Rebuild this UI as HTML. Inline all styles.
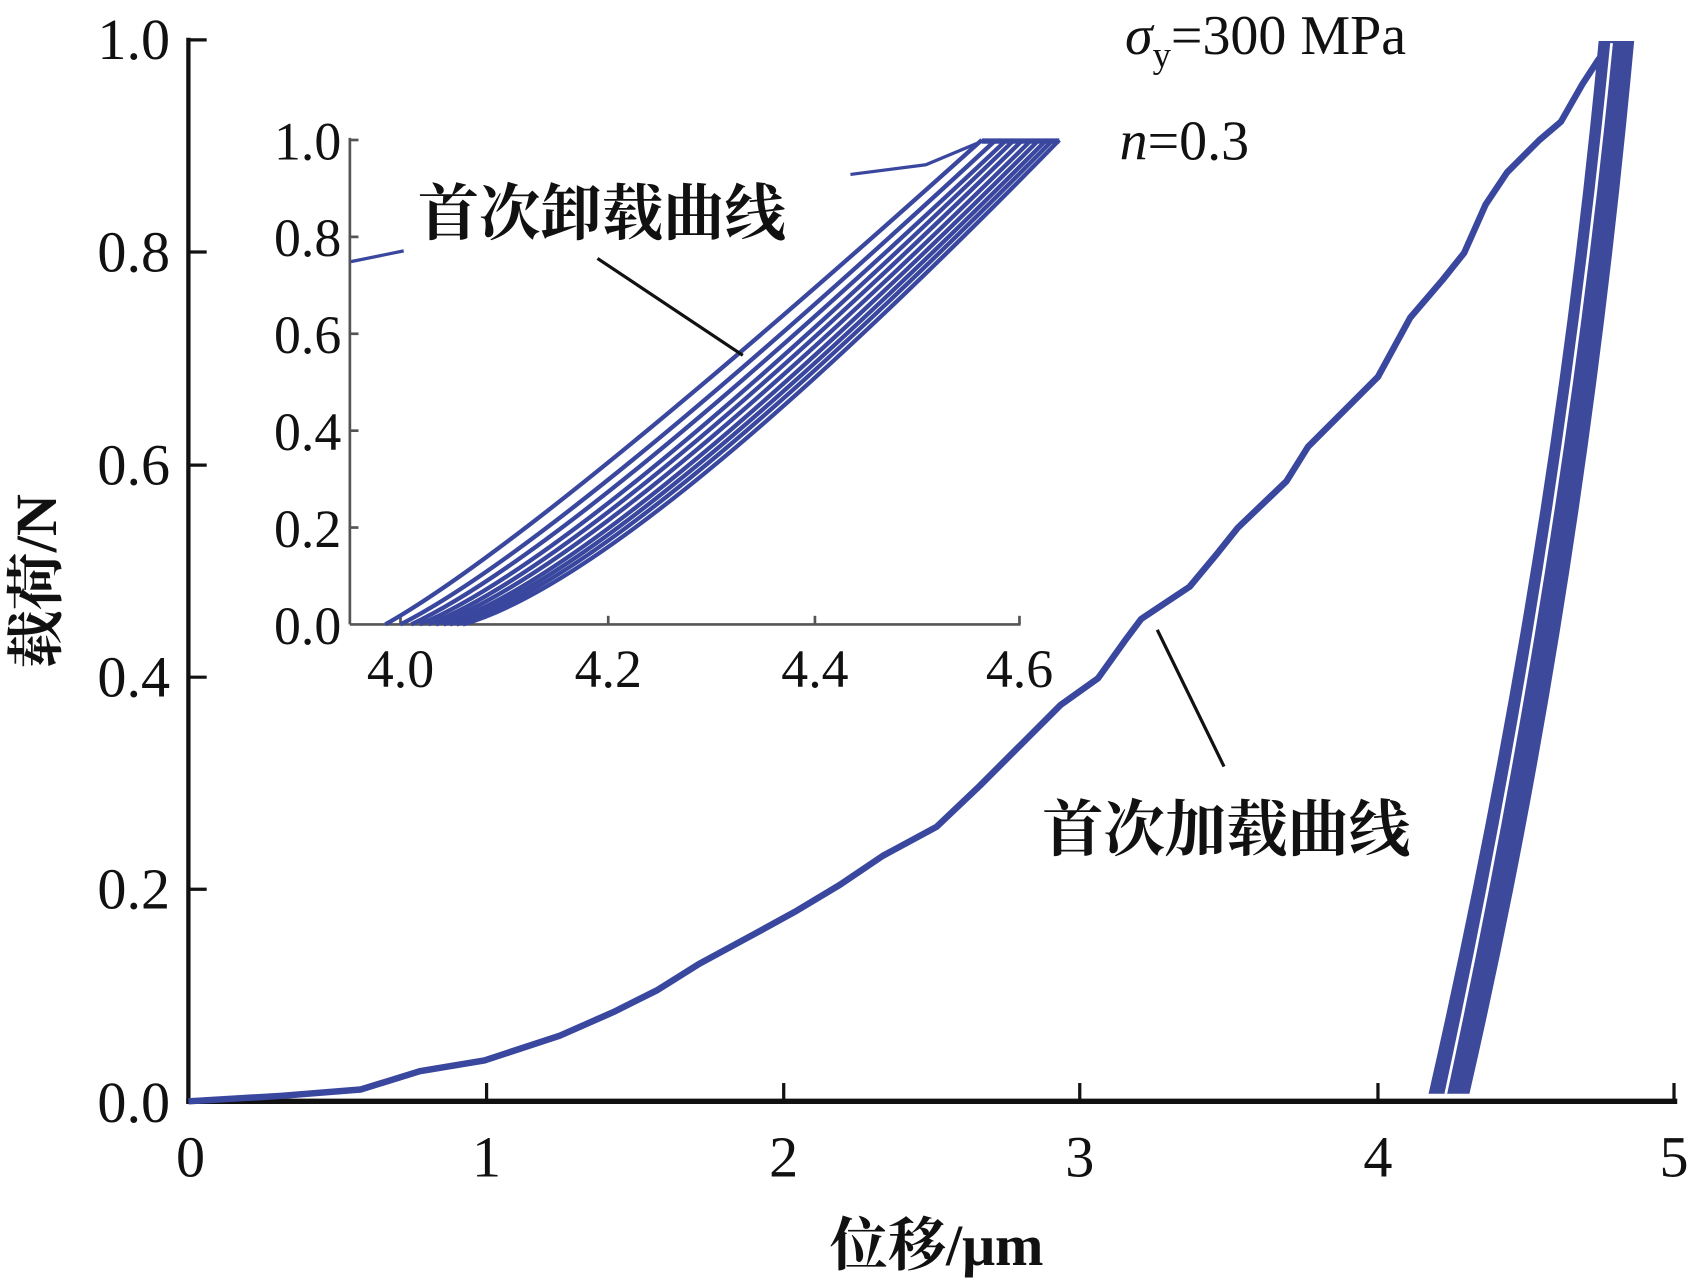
<!DOCTYPE html>
<html><head><meta charset="utf-8"><style>
html,body{margin:0;padding:0;background:#fff;}
svg{display:block;}
text{font-family:"Liberation Serif","Noto Serif CJK SC",serif;fill:#111;}
.cjk{font-family:"Liberation Serif","Noto Serif CJK SC",serif;font-weight:bold;}
</style></head><body>
<svg width="1688" height="1279" viewBox="0 0 1568 1188" xmlns="http://www.w3.org/2000/svg">
<rect width="1568" height="1188" fill="#fff"/>
<g stroke="#111" fill="none">
<line x1="175" y1="35" x2="175" y2="1025" stroke-width="4"/>
<line x1="173" y1="1023" x2="1558" y2="1023" stroke-width="5"/>
<g stroke-width="3">
<line x1="175" y1="37" x2="192" y2="37"/><line x1="175" y1="234" x2="192" y2="234"/>
<line x1="175" y1="432" x2="192" y2="432"/><line x1="175" y1="629" x2="192" y2="629"/>
<line x1="175" y1="826" x2="192" y2="826"/>
<line x1="452" y1="1023" x2="452" y2="1006"/><line x1="728" y1="1023" x2="728" y2="1006"/>
<line x1="1003" y1="1023" x2="1003" y2="1006"/><line x1="1280" y1="1023" x2="1280" y2="1006"/>
<line x1="1555" y1="1023" x2="1555" y2="1006"/>
</g></g>
<g font-size="54" text-anchor="end">
<text x="158" y="55">1.0</text><text x="158" y="252">0.8</text><text x="158" y="450">0.6</text>
<text x="158" y="647">0.4</text><text x="158" y="844">0.2</text><text x="158" y="1042">0.0</text>
</g>
<g font-size="54" text-anchor="middle">
<text x="177" y="1093">0</text><text x="452" y="1093">1</text><text x="728" y="1093">2</text>
<text x="1003" y="1093">3</text><text x="1280" y="1093">4</text><text x="1555" y="1093">5</text>
</g>
<text x="870" y="1175" font-size="54" text-anchor="middle" class="cjk">位移/μm</text>
<text transform="translate(52,540) rotate(-90)" font-size="54" text-anchor="middle" class="cjk">载荷/N</text>
<text x="1045" y="50" font-size="52"><tspan font-style="italic">σ</tspan><tspan font-size="34" dy="12">y</tspan><tspan dy="-12">=300 MPa</tspan></text>
<text x="1040" y="148" font-size="52"><tspan font-style="italic">n</tspan>=0.3</text>
<polyline fill="none" stroke="#3a479e" stroke-width="6" stroke-linejoin="round" points="175,1023 260,1018 335,1012 390,995 450,985 520,962 570,940 610,920 650,895 700,868 740,846 780,822 820,795 870,768 910,730 950,690 985,655 1020,630 1045,595 1060,575 1105,545 1130,515 1150,490 1195,447 1215,415 1240,390 1280,350 1310,295 1340,260 1360,235 1380,190 1400,160 1430,130 1450,113 1470,78 1485,55 1500,40"/>
<path d="M1327,1016 Q1440,520 1485,38 L1518,38 Q1470,560 1365,1016 Z" fill="#3d4a9c"/>
<path d="M1343,1016 Q1450,520 1497,40" fill="none" stroke="#fff" stroke-width="2.5"/>
<line x1="1075" y1="585" x2="1137" y2="712" stroke="#111" stroke-width="3"/>
<text x="968" y="790" font-size="57" class="cjk">首次加载曲线</text>
<rect x="200" y="100" width="800" height="540" fill="#fff"/>
<g stroke="#555" fill="none" stroke-width="2.5">
<line x1="325" y1="128" x2="325" y2="580"/>
<line x1="325" y1="580" x2="948" y2="580"/>
<line x1="325" y1="130" x2="333" y2="130"/><line x1="325" y1="220" x2="333" y2="220"/>
<line x1="325" y1="310" x2="333" y2="310"/><line x1="325" y1="400" x2="333" y2="400"/>
<line x1="325" y1="490" x2="333" y2="490"/>
<line x1="372" y1="580" x2="372" y2="572"/><line x1="565" y1="580" x2="565" y2="572"/>
<line x1="757" y1="580" x2="757" y2="572"/><line x1="947" y1="580" x2="947" y2="572"/>
</g>
<g font-size="50" text-anchor="end">
<text x="317" y="148">1.0</text><text x="317" y="238">0.8</text><text x="317" y="328">0.6</text>
<text x="317" y="418">0.4</text><text x="317" y="508">0.2</text><text x="317" y="598">0.0</text>
</g>
<g font-size="50" text-anchor="middle">
<text x="372" y="638">4.0</text><text x="565" y="638">4.2</text><text x="757" y="638">4.4</text><text x="947" y="638">4.6</text>
</g>
<g fill="none" stroke="#3a479e" stroke-width="4">
<path d="M358,580 Q500,500 912,130"/>
<path d="M372,580 Q520,505 925,130"/>
<path d="M382,580 Q532,510 935,130"/>
<path d="M390,580 Q545,515 942,130"/>
<path d="M398,580 Q552,520 950,130"/>
<path d="M405,580 Q560,524 958,130"/>
<path d="M412,580 Q568,528 965,130"/>
<path d="M418,580 Q575,530 972,130"/>
<path d="M424,580 Q582,532 978,130"/>
<path d="M430,580 Q590,534 984,130"/>
<polyline points="790,162 860,153 915,130" stroke-width="3"/>
<polyline points="326,243 375,233" stroke-width="3"/>
<line x1="912" y1="131" x2="984" y2="131" stroke-width="5"/>
</g>
<line x1="555" y1="240" x2="690" y2="330" stroke="#111" stroke-width="3"/>
<text x="388" y="218" font-size="57" class="cjk">首次卸载曲线</text>
</svg>
</body></html>
